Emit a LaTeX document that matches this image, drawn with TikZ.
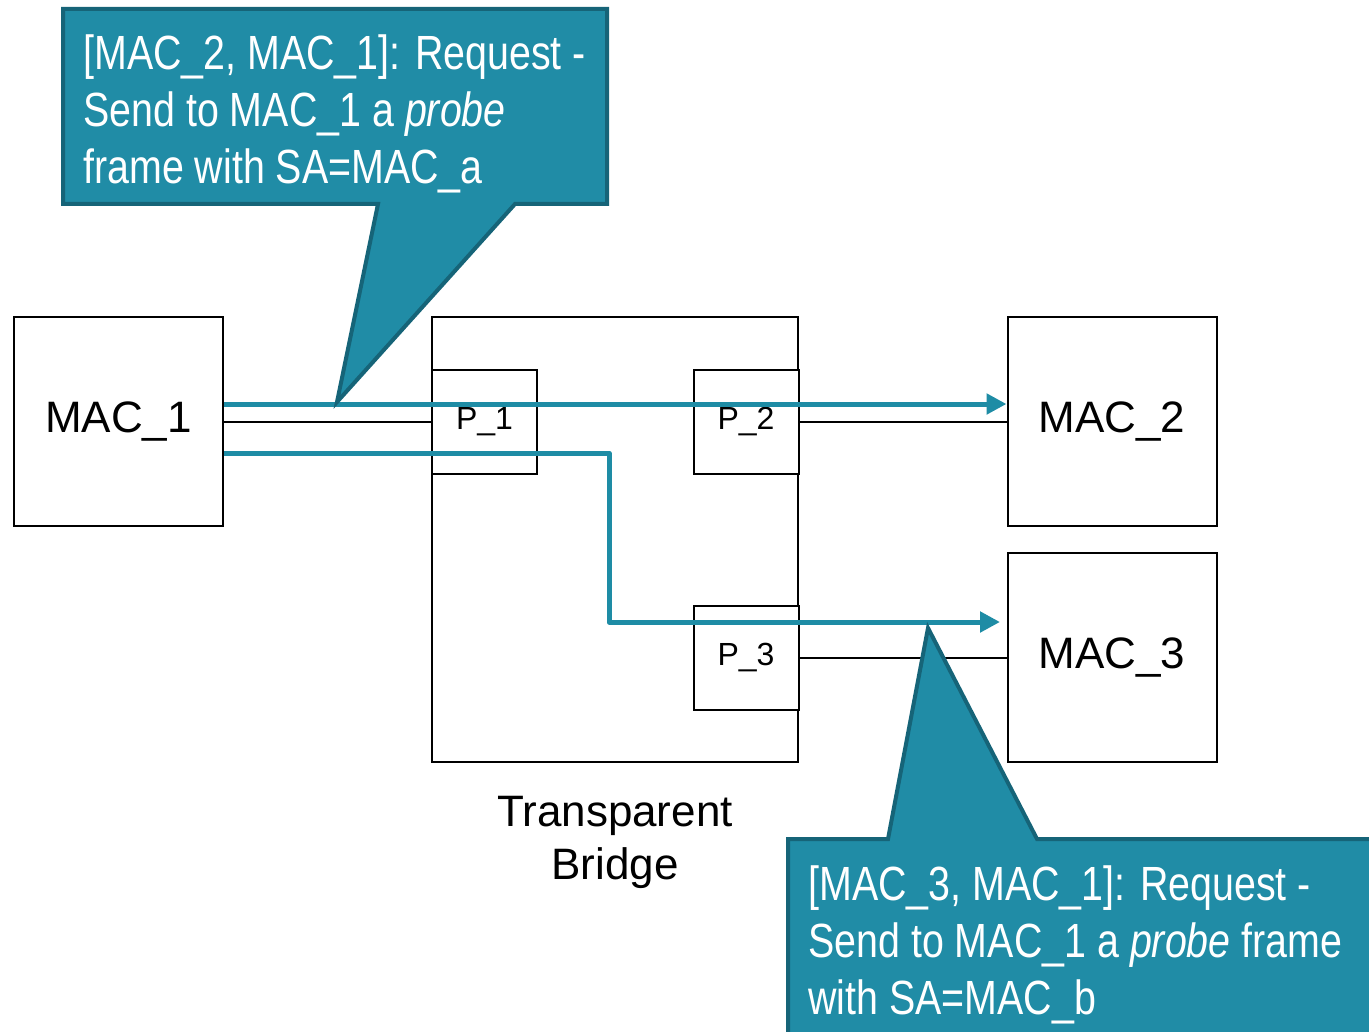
\documentclass[tikz,border=0pt]{standalone}
\usepackage{fontspec}
\setmainfont{Liberation Sans}
\newfontfamily\narrowfont[FakeStretch=0.82]{Liberation Sans}
\usetikzlibrary{arrows.meta,calc}
\definecolor{tealfill}{RGB}{32,140,166}
\definecolor{tealedge}{RGB}{22,100,120}
\definecolor{tealarrow}{RGB}{30,140,165}
\tikzset{
  macbox/.style={draw=black,line width=1pt,minimum width=104.5pt,minimum height=104.5pt,inner sep=0pt,font=\fontsize{22}{26}\selectfont},
  portbox/.style={draw=black,line width=1pt,fill=white,minimum width=52.5pt,minimum height=52pt,inner sep=0pt,font=\fontsize{16}{19}\selectfont},
  bridgebox/.style={draw=black,line width=1pt,minimum width=183pt,minimum height=222.5pt,inner sep=0pt},
  wire/.style={draw=black,line width=1pt},
  flow/.style={draw=tealarrow,line width=2.5pt,-{Triangle[length=10pt,width=10pt]}},
  callout/.style={fill=tealfill,draw=tealedge,line width=2pt,line join=miter},
  callouttext/.style={text=white,anchor=base west,inner sep=0pt,align=left,font=\narrowfont\fontsize{24}{28.5}\selectfont},
  labeltext/.style={align=center,inner sep=0pt,font=\fontsize{22}{26.5}\selectfont}
}
\begin{document}
\begin{tikzpicture}[x=0.5pt,y=-0.5pt]
\useasboundingbox (0,0) rectangle (1369,1032);
% boxes
\node[bridgebox] (bridge) at (615,539.5) {};
\node[macbox] (mac1) at (118.5,421.5) {MAC\_1};
\node[macbox] (mac2) at (1112,421.5) {MAC\_2};
\node[macbox] (mac3) at (1112,657.5) {MAC\_3};
\node[portbox] (p1) at (484.5,421.5) {P\_1};
\node[portbox] (p2) at (746,421.5) {P\_2};
\node[portbox] (p3) at (746,657.5) {P\_3};
\node[labeltext] (blabel) at (615,842) {Transparent\\Bridge};
% wires
\draw[wire] (mac1.east) -- (p1.west);
\draw[wire] (p2.east) -- (mac2.west);
\draw[wire] (p3.east) -- (mac3.west);
% flows
\coordinate (s1) at ($(mac1.east)+(0,-17.5)$);
\coordinate (s2) at ($(mac1.east)+(0,31.5)$);
\coordinate (bend1) at (609,453);
\coordinate (bend2) at (609,622);
\coordinate (e2) at (1000,622);
\draw[flow] (s1) -- (s1 -| mac2.west);
\draw[flow,line join=round] (s2) -- (bend1) -- (bend2) -- (e2);
% callout 1
\coordinate (tip1) at (337,402);
\draw[callout] (63,9) -- (607,9) -- (607,204) -- (515,204) -- (tip1) -- (378,204) -- (63,204) -- cycle;
\node[callouttext] (c1) at (83,184) {[MAC\_2, MAC\_1]: Request -\\Send to MAC\_1 a \textit{probe}\\frame with SA=MAC\_a};
% callout 2
\coordinate (tip2) at (928,628);
\draw[callout] (788,839) -- (888,839) -- (tip2) -- (1037,839) -- (1380,839) -- (1380,1045) -- (788,1045) -- cycle;
\node[callouttext] (c2) at (808,1014) {[MAC\_3, MAC\_1]: Request -\\Send to MAC\_1 a \textit{probe} frame\\with SA=MAC\_b};
\end{tikzpicture}
\end{document}
